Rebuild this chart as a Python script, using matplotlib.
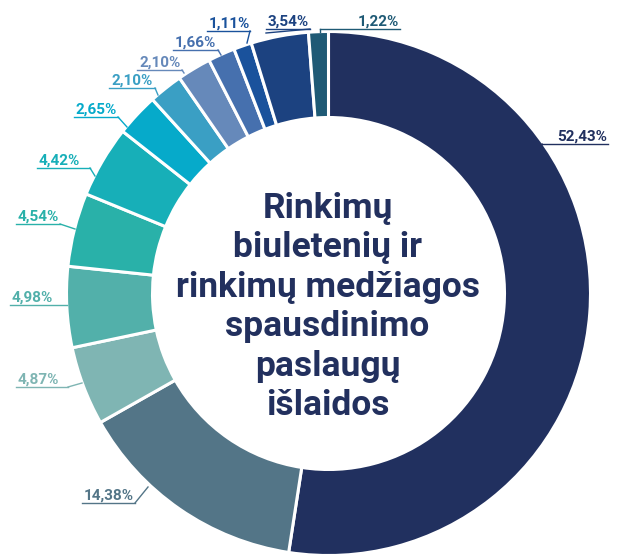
import matplotlib
matplotlib.use("Agg")
import matplotlib.pyplot as plt

plt.rcParams['font.family'] = ['Roboto', 'DejaVu Sans']

# slices clockwise from 12 o'clock
values = [52.43, 14.38, 4.87, 4.98, 4.54, 4.42, 2.65, 2.10, 2.10, 1.66, 1.11, 3.54, 1.22]
labels = ['52,43%', '14,38%', '4,87%', '4,98%', '4,54%', '4,42%', '2,65%',
          '2,10%', '2,10%', '1,66%', '1,11%', '3,54%', '1,22%']
colors = ['#21305F', '#537587', '#7FB5B3', '#52B0AA', '#29B1A9', '#17AFB8', '#06AACA',
          '#3A9FC4', '#6689BA', '#4670AE', '#1A529C', '#1C4280', '#1F5A75']
title = "Rinkimų\nbiuletenių ir\nrinkimų medžiagos\nspausdinimo\npaslaugų\nišlaidos"

W, H = 619, 559
fig = plt.figure(figsize=(W / 100, H / 100), dpi=100)
ax = fig.add_axes([0, 0, 1, 1])

def Y(y):
    # picture coords (y down) -> axes coords
    return H - y

cx, cy, R = 328.5, 293.5, 262
ax.pie(values, colors=colors, startangle=90, counterclock=False,
       center=(cx, Y(cy)), radius=R, frame=True,
       wedgeprops=dict(width=86, edgecolor='white', linewidth=2.2))
ax.set_xlim(0, W)
ax.set_ylim(0, H)
ax.set_aspect('equal')
ax.axis('off')

# label layout: underline y, x0, x1, leader end point, side
lay = [
    (144, 542, 608, (540, 152), 'r'),
    (503, 82, 135, (148, 487), 'l'),
    (387, 16, 68, (82, 383), 'l'),
    (305, 10, 67, (67, 305), 'l'),
    (224, 16, 60, (75, 229), 'l'),
    (168, 37, 90, (95, 176), 'l'),
    (117, 74, 118, (127, 127), 'l'),
    (88, 109, 155, (158, 95), 'l'),
    (70, 137, 182, (184, 73), 'l'),
    (50, 173, 218, (221, 55), 'l'),
    (31, 207, 250, (247, 43), 'l'),
    (29, 266, 310, (266, 33), 'l'),
    (29, 320, 400, (320, 32), 'r'),
]

for lab, col, (ly, x0, x1, end, side) in zip(labels, colors, lay):
    ax.plot([x0, x1], [Y(ly), Y(ly)], color=col, lw=1)
    if side == 'l':
        ax.plot([x1, end[0]], [Y(ly), Y(end[1])], color=col, lw=1)
        ax.text(x0 + 2, Y(ly - 3), lab, color=col, fontsize=11,
                fontweight='bold', ha='left', va='baseline')
    else:
        ax.plot([x0, end[0]], [Y(ly), Y(end[1])], color=col, lw=1)
        ax.text(x1 - 1, Y(ly - 3), lab, color=col, fontsize=11,
                fontweight='bold', ha='right', va='baseline')

ax.text(cx - 1, Y(307), title, color='#22305E', fontsize=25.5, fontweight='bold',
        ha='center', va='center', linespacing=1.25)

fig.savefig('out.png', dpi=100)
